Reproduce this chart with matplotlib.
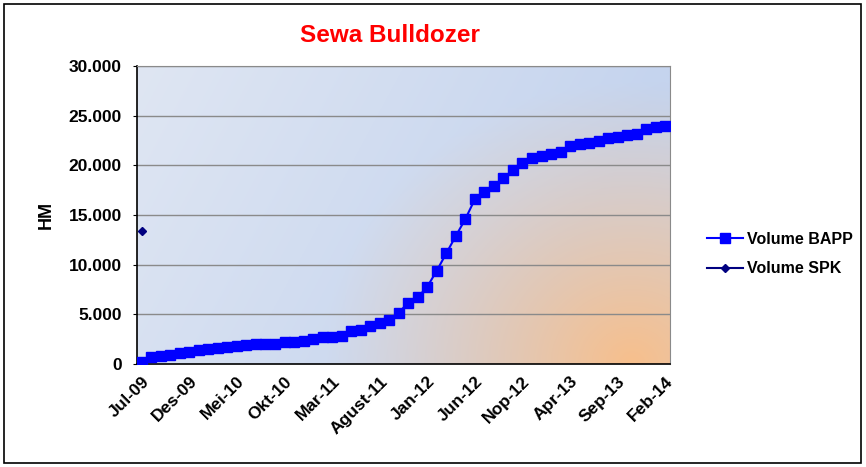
import numpy as np
import matplotlib
matplotlib.use("Agg")
import matplotlib.pyplot as plt
from matplotlib.colors import to_rgb
from matplotlib.patches import Rectangle

plt.rcParams["font.family"] = ["Liberation Sans", "DejaVu Sans"]
plt.rcParams["font.weight"] = "bold"

# monthly HM, Jul-09 .. Feb-14 (56 months)
volume_bapp = [
    230, 700, 800, 900, 1100, 1200, 1400, 1500, 1650, 1700,
    1800, 1900, 2000, 2000, 2050, 2200, 2250, 2300, 2550, 2700,
    2750, 2800, 3300, 3450, 3850, 4150, 4430, 5170, 6170, 6710,
    7780, 9400, 11150, 12890, 14600, 16590, 17350, 17960, 18680, 19500,
    20240, 20710, 20980, 21150, 21380, 21950, 22100, 22250, 22400, 22750,
    22900, 23100, 23200, 23700, 23850, 24000,
]
volume_spk = [13400]  # only Jul-09
tick_labels = ["Jul-09", "Des-09", "Mei-10", "Okt-10", "Mar-11", "Agust-11",
               "Jan-12", "Jun-12", "Nop-12", "Apr-13", "Sep-13", "Feb-14"]
y_ticks = [0, 5000, 10000, 15000, 20000, 25000, 30000]
y_tick_labels = ["0", "5.000", "10.000", "15.000", "20.000", "25.000", "30.000"]

W, H = 866, 467
fig = plt.figure(figsize=(W / 100, H / 100), dpi=100)
fig.patches.append(Rectangle((4 / W, 4 / H), 857 / W, 459 / H, transform=fig.transFigure,
                             fill=False, edgecolor="black", linewidth=1.2))

ax = fig.add_axes([137 / W, 1 - 364 / H, 533 / W, 298 / H])
n = len(volume_bapp)
x = np.arange(n)
ax.set_xlim(-0.5, n - 0.5)
ax.set_ylim(0, 30000)

# plot-area background: blue gradient with an orange glow bottom-right
gx, gy = np.meshgrid(np.linspace(0, 1, 300), np.linspace(0, 1, 200))
c_tl = np.array(to_rgb("#dfe6f3"))
c_mid = np.array(to_rgb("#c5d4ee"))
c_or = np.array(to_rgb("#f7bf8c"))
t = np.clip((gx + (1 - gy) * 0.3) / 1.0, 0, 1)[..., None]
base = c_tl * (1 - t) + c_mid * t
d = np.sqrt(((gx - 0.93) / 0.58) ** 2 + ((gy - 0.0) / 0.95) ** 2)
w = np.clip(1 - d, 0, 1)[..., None] ** 1.1
img = base * (1 - w) + c_or * w
ax.imshow(img, extent=(-0.5, n - 0.5, 0, 30000), origin="lower", aspect="auto", zorder=0)

for yv in y_ticks[1:]:
    ax.axhline(yv, color="#8a8a8a", lw=1.0, zorder=1)

ax.plot(x, volume_bapp, color="#0000ff", lw=1.5, marker="s", markersize=6.5,
        markeredgecolor="#0000ff", label="Volume BAPP", zorder=3)
ax.plot(x[:len(volume_spk)], volume_spk, color="#000080", lw=1.5, marker="D",
        markersize=4, label="Volume SPK", zorder=3)

ax.set_yticks(y_ticks)
ax.set_yticklabels(y_tick_labels, fontsize=12.5, fontweight="bold")
ax.set_xticks(x[::5])
ax.set_xticklabels(tick_labels, rotation=45, ha="right", rotation_mode="anchor",
                   fontsize=12.5, fontweight="bold")
ax.tick_params(axis="y", length=3, pad=8)
ax.tick_params(axis="x", length=0, pad=7)
ax.set_ylabel("HM", fontsize=13, fontweight="bold", labelpad=10)

for side in ("top", "right"):
    ax.spines[side].set_color("#8a8a8a")
for side in ("left", "bottom"):
    ax.spines[side].set_color("black")
    ax.spines[side].set_linewidth(1.2)

fig.text(390 / W, 1 - 35 / H, "Sewa Bulldozer", color="#ff0000", fontsize=17.5,
         fontweight="bold", ha="center", va="center")

fig.legend(loc="center left", bbox_to_anchor=(693 / W, 1 - 254 / H), frameon=False,
           handlelength=2.2, labelspacing=0.9, handletextpad=0.3,
           prop={"weight": "bold", "size": 11.5})

fig.savefig("out.png", dpi=100)
